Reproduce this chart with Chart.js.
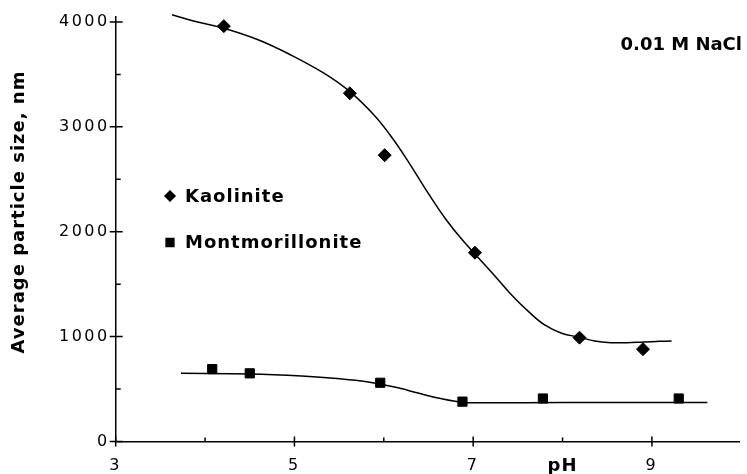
<!DOCTYPE html>
<html>
<head>
<meta charset="utf-8">
<script src="https://cdn.jsdelivr.net/npm/chart.js@4"></script>
<style>
  html, body { margin: 0; padding: 0; background: #fff; }
  #wrap { width: 747px; height: 474px; }
</style>
</head>
<body>
<div id="wrap"><canvas id="chart"></canvas></div>
<script>
// measured particle sizes (nm) vs pH
const kaolinitePH = [4.21, 5.62, 6.01, 7.02, 8.19, 8.90];
const kaoliniteSize = [3960, 3320, 2730, 1800, 990, 880];
const montPH = [4.08, 4.50, 5.96, 6.88, 7.78, 9.30];
const montSize = [690, 650, 560, 380, 410, 410];

// hand-fitted trend lines
const kaoliniteFitPH = [3.63, 3.86, 4.21, 4.60, 4.96, 5.33, 5.62, 5.89, 6.07, 6.25, 6.51, 6.70, 6.88, 7.25, 7.43, 7.62, 7.80, 7.99, 8.19, 8.36, 8.54, 8.72, 8.91, 9.09, 9.22];
const kaoliniteFitSize = [4069, 4012, 3940, 3828, 3685, 3511, 3335, 3113, 2922, 2700, 2350, 2112, 1921, 1571, 1397, 1238, 1111, 1032, 994, 958, 942, 942, 949, 955, 958];
const montFitPH = [3.73, 4.50, 5.08, 5.44, 5.81, 6.18, 6.37, 6.62, 6.88, 7.14, 8.00, 9.00, 9.62];
const montFitSize = [650, 644, 625, 603, 570, 507, 465, 412, 374, 370, 371, 372, 372];

const xTicks = [3, 4, 5, 6, 7, 8, 9];
const yTicks = [0, 500, 1000, 1500, 2000, 2500, 3000, 3500, 4000];

const seriesNames = ['Kaolinite', 'Montmorillonite'];
const yTitle = 'Average particle size, nm';
const xTitle = 'pH';
const note = '0.01 M NaCl';

const FONT = '"DejaVu Sans", sans-serif';
const toXY = (xs, ys) => xs.map((v, i) => ({ x: v, y: ys[i] }));

const decorations = {
  id: 'decorations',
  beforeDraw(chart) {
    // wide tracking for the tick numbers
    chart.ctx.letterSpacing = '2.5px';
  },
  afterDraw(chart) {
    const { ctx, chartArea, scales: { x, y } } = chart;
    ctx.save();
    ctx.letterSpacing = '0px';
    ctx.strokeStyle = '#000';
    ctx.lineWidth = 1.5;
    ctx.beginPath();
    // y ticks: labelled ones cross the axis, the others point inward
    yTicks.forEach(v => {
      const py = y.getPixelForValue(v);
      const major = v % 1000 === 0;
      ctx.moveTo(chartArea.left - (major ? 6 : 0), py);
      ctx.lineTo(chartArea.left + (major ? 7 : 5), py);
    });
    xTicks.forEach(v => {
      const px = x.getPixelForValue(v);
      const major = v % 2 === 1;
      ctx.moveTo(px, chartArea.bottom + (major ? 5 : 0));
      ctx.lineTo(px, chartArea.bottom - (major ? 5 : 4));
    });
    ctx.stroke();

    ctx.fillStyle = '#000';
    ctx.font = 'bold 18px ' + FONT;
    ctx.letterSpacing = '1px';
    ctx.textBaseline = 'middle';

    // axis titles
    ctx.textAlign = 'center';
    ctx.fillText(xTitle, x.getPixelForValue(8), 466);
    ctx.save();
    ctx.translate(19, 212);
    ctx.rotate(-Math.PI / 2);
    ctx.fillText(yTitle, 0, 0);
    ctx.restore();

    ctx.textAlign = 'right';
    ctx.letterSpacing = '0px';
    ctx.fillText(note, 742, 45);
    ctx.letterSpacing = '1px';

    // legend
    ctx.textAlign = 'left';
    const legendRows = [
      { label: seriesNames[0], style: 'rectRot', radius: 5, y: 196 },
      { label: seriesNames[1], style: 'rect', radius: 5.5, y: 242.5 }
    ];
    legendRows.forEach(r => {
      Chart.helpers.drawPoint(ctx, { pointStyle: r.style, radius: r.radius, borderWidth: 0.5 }, 170, r.y);
      ctx.fillStyle = '#000';
      ctx.fillText(r.label, 185, r.y + 1);
    });
    ctx.restore();
  }
};

new Chart(document.getElementById('chart'), {
  type: 'scatter',
  data: {
    datasets: [
      {
        label: seriesNames[0],
        data: toXY(kaolinitePH, kaoliniteSize),
        pointStyle: 'rectRot',
        pointRadius: 6.5,
        backgroundColor: '#000',
        borderColor: '#000',
        borderWidth: 1
      },
      {
        label: seriesNames[1],
        data: toXY(montPH, montSize),
        pointStyle: 'rect',
        pointRadius: 6.5,
        backgroundColor: '#000',
        borderColor: '#000',
        borderWidth: 1
      },
      {
        label: seriesNames[0] + ' fit',
        data: toXY(kaoliniteFitPH, kaoliniteFitSize),
        showLine: true,
        pointRadius: 0,
        borderColor: '#000',
        borderWidth: 1.5,
        tension: 0.4,
        clip: false
      },
      {
        label: seriesNames[1] + ' fit',
        data: toXY(montFitPH, montFitSize),
        showLine: true,
        pointRadius: 0,
        borderColor: '#000',
        borderWidth: 1.5,
        tension: 0.4
      }
    ]
  },
  options: {
    responsive: true,
    maintainAspectRatio: false,
    animation: false,
    layout: { padding: { left: 0, right: 0, top: 16.7, bottom: 0 } },
    plugins: {
      legend: { display: false },
      tooltip: { enabled: false }
    },
    scales: {
      x: {
        type: 'linear',
        min: 3,
        max: 9.98,
        afterBuildTicks: s => { s.ticks = xTicks.map(v => ({ value: v })); },
        afterFit: s => { s.height = 32.5; },
        grid: { display: false, drawTicks: false },
        border: { color: '#000', width: 1.5 },
        ticks: {
          color: '#000',
          font: { family: FONT, size: 16 },
          padding: 15,
          maxRotation: 0,
          callback: v => (v % 2 === 1 ? String(v) : '')
        }
      },
      y: {
        type: 'linear',
        min: 0,
        max: 4050,
        afterBuildTicks: s => { s.ticks = yTicks.map(v => ({ value: v })); },
        afterFit: s => { s.width = 115.7; },
        grid: { display: false, drawTicks: false },
        border: { color: '#000', width: 1.5 },
        ticks: {
          color: '#000',
          font: { family: FONT, size: 16 },
          padding: 6,
          callback: v => (v % 1000 === 0 ? String(v) : '')
        }
      }
    }
  },
  plugins: [decorations]
});
</script>
</body>
</html>
